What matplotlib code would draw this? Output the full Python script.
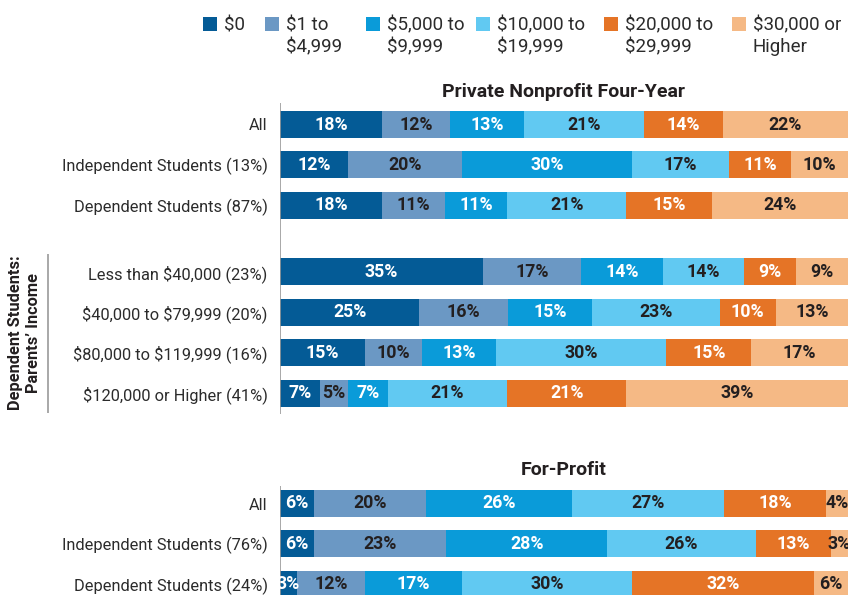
import numpy as np
import matplotlib
matplotlib.use('Agg')
import matplotlib.pyplot as plt
from matplotlib.patches import Rectangle

plt.rcParams['font.family'] = ['Roboto', 'DejaVu Sans']
plt.rcParams['text.parse_math'] = False

# DATA

categories = ['$0', '$1 to\n$4,999', '$5,000 to\n$9,999', '$10,000 to\n$19,999',
              '$20,000 to\n$29,999', '$30,000 or\nHigher']
colors = ['#045B96', '#6B98C4', '#0A9BD9', '#61C9F2', '#E57426', '#F5B985']
text_colors = ['white', '#231F20', 'white', '#231F20', 'white', '#231F20']

pnp_rows = ['All', 'Independent Students (13%)', 'Dependent Students (87%)']
pnp_vals = [[18, 12, 13, 21, 14, 22],
            [12, 20, 30, 17, 11, 10],
            [18, 11, 11, 21, 15, 24]]

income_rows = ['Less than $40,000 (23%)', '$40,000 to $79,999 (20%)',
               '$80,000 to $119,999 (16%)', '$120,000 or Higher (41%)']
income_vals = [[35, 17, 14, 14, 9, 9],
               [25, 16, 15, 23, 10, 13],
               [15, 10, 13, 30, 15, 17],
               [7, 5, 7, 21, 21, 39]]

fp_rows = ['All', 'Independent Students (76%)', 'Dependent Students (24%)']
fp_vals = [[6, 20, 26, 27, 18, 4],
           [6, 23, 28, 26, 13, 3],
           [3, 12, 17, 30, 32, 6]]

# LAYOUT (figure pixels)
W, H = 848, 595
step = 40.4
y_pnp = 124.5 + step * np.arange(3)
y_inc = 271.8 + step * np.arange(4)
y_fp = 503.5 + step * np.arange(3)

fig = plt.figure(figsize=(W / 100, H / 100), dpi=100)
ax = fig.add_axes([280 / W, 0, 568 / W, 1])
ax.patch.set_visible(False)
ax.set_xlim(0, 100)
ax.set_ylim(H, 0)
for s in ax.spines.values():
    s.set_visible(False)
ax.set_xticks([])

all_rows = pnp_rows + income_rows + fp_rows
all_vals = pnp_vals + income_vals + fp_vals
all_y = list(y_pnp) + list(y_inc) + list(y_fp)

for yy, vals in zip(all_y, all_vals):
    vals = np.array(vals, dtype=float)
    widths = vals / vals.sum() * 100
    left = 0
    for j, (w, v) in enumerate(zip(widths, vals)):
        ax.barh(yy, w, left=left, height=27, color=colors[j], linewidth=0)
        ax.text(left + w / 2, yy, '%d%%' % v, ha='center', va='center',
                color=text_colors[j], fontsize=12.8, fontweight='bold', clip_on=False)
        left += w

ax.set_yticks(all_y)
ax.set_yticklabels(all_rows, fontsize=11.8, color='#2B2B2B')
ax.tick_params(axis='y', length=0, pad=9)

# axis lines
ax.vlines(0, 103, 414, color='#9A9A9A', linewidth=1.2)
ax.vlines(0, 486, H, color='#9A9A9A', linewidth=1.2)

# panel titles
ax.text(50, 92, 'Private Nonprofit Four-Year', ha='center', va='center',
        fontsize=14, fontweight='bold', color='#231F20')
ax.text(50, 470, 'For-Profit', ha='center', va='center',
        fontsize=14, fontweight='bold', color='#231F20')

# overlay for legend and bracket
ov = fig.add_axes([0, 0, 1, 1], zorder=-1)
ov.set_xlim(0, W)
ov.set_ylim(H, 0)
ov.axis('off')

leg_x = [203, 265, 366, 476, 604, 732]
for x, c, lab in zip(leg_x, colors, categories):
    ov.add_patch(Rectangle((x, 16.5), 14, 14, color=c, linewidth=0))
    for k, line in enumerate(lab.split('\n')):
        ov.text(x + 21, 30 + 22 * k, line, ha='left', va='baseline', fontsize=13.5,
                color='#2B2B2B')

ov.vlines(48, 254, 413, color='#9A9A9A', linewidth=1.2)
ov.text(25, 333, 'Dependent Students:\nParents\u2019 Income', rotation=90,
        ha='center', va='center', fontsize=11.8, fontweight='bold',
        color='#231F20', linespacing=1.25, multialignment='center')

fig.savefig('out.png', dpi=100)
